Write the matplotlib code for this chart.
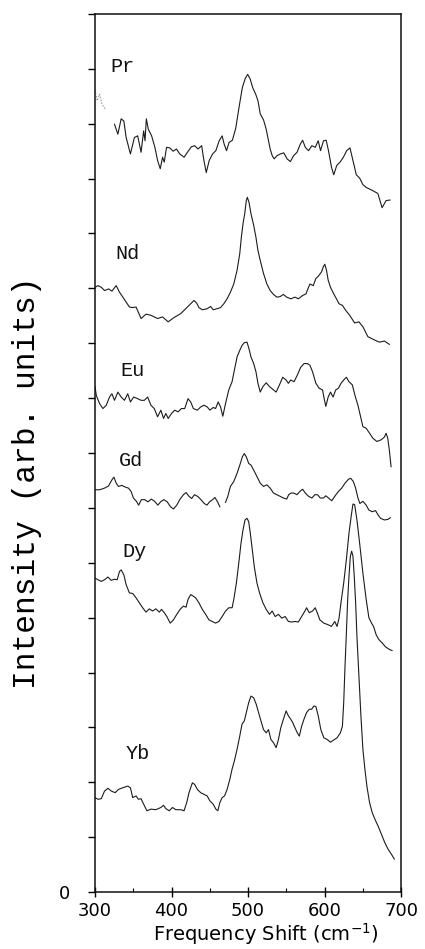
import numpy as np
import matplotlib
matplotlib.use('Agg')
import matplotlib.pyplot as plt

# Raman spectra: (frequency shift in cm-1, intensity in arb. units)
pr_start = [(300, 14.61), (303, 14.42), (306, 14.54), (309, 14.36), (313.4, 14.27)]
pr = [(325.5, 13.99), (329.9, 13.81), (334.2, 14.09), (337.7, 14.05), (340.7, 13.75),
      (346.3, 13.45), (351.5, 13.75), (355.8, 13.78), (360.2, 13.48), (363.6, 13.87),
      (365.4, 13.69), (367.1, 14.09), (369.7, 13.90), (374.0, 13.78), (378.3, 13.57),
      (381.8, 13.33), (385.3, 13.18), (388.3, 13.39), (390.5, 13.30), (393.5, 13.57),
      (397.8, 13.56), (402.2, 13.50), (406.5, 13.54), (410.8, 13.45), (416.4, 13.39),
      (420.8, 13.48), (426.0, 13.58), (430.3, 13.60), (434.6, 13.54), (439.4, 13.60),
      (442.4, 13.33), (445.4, 13.11), (449.3, 13.33), (453.7, 13.45), (458.0, 13.51),
      (462.3, 13.69), (466.2, 13.78), (468.8, 13.63), (471.9, 13.51), (475.3, 13.66),
      (479.6, 13.70), (484.0, 13.92), (488.3, 14.30), (492.6, 14.66), (496.5, 14.83),
      (499.6, 14.90), (503.0, 14.81), (506.1, 14.66), (510.0, 14.54), (513.0, 14.42),
      (516.0, 14.18), (520.3, 14.07), (523.8, 13.90), (526.8, 13.69), (529.0, 13.54),
      (531.6, 13.42), (534.2, 13.36), (538.1, 13.42), (542.4, 13.45), (546.7, 13.47),
      (551.1, 13.36), (555.4, 13.31), (559.7, 13.42), (564.1, 13.48), (568.4, 13.63),
      (571.4, 13.70), (574.9, 13.57), (579.2, 13.51), (583.5, 13.60), (587.9, 13.57),
      (591.8, 13.69), (594.8, 13.51), (598.7, 13.69), (602.2, 13.70), (605.2, 13.51),
      (609.1, 13.21), (612.1, 13.07), (616.0, 13.24), (620.3, 13.30), (624.7, 13.39),
      (629.0, 13.51), (633.3, 13.56), (637.2, 13.33), (641.6, 13.07), (645.9, 13.01),
      (650.2, 12.89), (654.5, 12.84), (658.9, 12.81), (663.2, 12.78), (669.7, 12.73),
      (675.3, 12.47), (680.5, 12.60), (685.7, 12.61)]

nd = [(300, 11.02), (303.9, 11.05), (308.2, 11.02), (312.5, 10.96), (317.7, 10.99),
      (322.1, 10.95), (327.7, 11.05), (332.0, 10.93), (336.4, 10.84), (340.7, 10.75),
      (345.0, 10.66), (349.3, 10.65), (353.7, 10.66), (360.2, 10.45), (366.6, 10.53),
      (373.1, 10.51), (381.8, 10.45), (388.3, 10.48), (395.6, 10.39), (403.4, 10.47),
      (412.1, 10.54), (420.8, 10.66), (425.1, 10.72), (429.4, 10.78), (432.9, 10.73),
      (435.9, 10.65), (440.3, 10.61), (446.7, 10.63), (451.1, 10.67), (454.5, 10.61),
      (459.7, 10.63), (464.1, 10.65), (468.4, 10.72), (472.7, 10.81), (477.0, 10.93),
      (481.4, 11.08), (485.7, 11.33), (489.2, 11.63), (491.3, 11.93), (493.5, 12.18),
      (495.7, 12.36), (497.8, 12.60), (499.1, 12.66), (501.3, 12.57), (503.9, 12.36),
      (507.4, 12.15), (510.4, 11.93), (513.0, 11.69), (516.0, 11.51), (520.3, 11.27),
      (524.7, 11.08), (529.0, 10.96), (533.3, 10.89), (537.7, 10.84), (542.0, 10.85),
      (546.3, 10.89), (550.6, 10.84), (555.8, 10.81), (561.5, 10.84), (565.8, 10.81),
      (571.4, 10.87), (575.8, 10.90), (578.8, 11.01), (581.0, 11.08), (585.3, 11.05),
      (588.7, 11.18), (591.8, 11.22), (596.1, 11.30), (598.3, 11.39), (600.4, 11.44),
      (602.6, 11.33), (604.8, 11.15), (607.8, 11.02), (612.1, 10.90), (615.6, 10.81),
      (619.0, 10.72), (623.4, 10.69), (627.7, 10.60), (632.9, 10.51), (639.4, 10.37),
      (645.0, 10.39), (650.2, 10.30), (656.7, 10.12), (665.3, 10.06), (671.8, 10.02),
      (678.3, 10.04), (684.8, 9.98)]

eu = [(300, 9.21), (301.7, 9.05), (306.0, 8.90), (310.4, 8.81), (314.7, 8.87),
      (319.0, 9.02), (322.1, 9.08), (325.5, 8.96), (329.9, 9.11), (334.2, 9.02),
      (338.5, 8.96), (342.8, 9.08), (346.3, 8.93), (350.6, 9.02), (355.8, 8.99),
      (360.2, 8.96), (364.5, 8.96), (368.8, 9.02), (373.1, 8.87), (377.5, 8.81),
      (381.8, 8.66), (386.1, 8.78), (389.6, 8.63), (392.6, 8.72), (395.7, 8.63),
      (400.0, 8.72), (404.3, 8.78), (408.6, 8.75), (413.0, 8.81), (417.3, 8.81),
      (421.6, 8.99), (425.1, 8.93), (428.6, 8.81), (433.8, 8.78), (438.1, 8.84),
      (442.4, 8.87), (446.7, 8.84), (450.2, 8.78), (454.5, 8.83), (457.6, 8.81),
      (461.0, 8.93), (464.1, 8.84), (467.1, 8.67), (470.6, 8.90), (474.9, 9.15),
      (479.2, 9.30), (482.2, 9.51), (485.7, 9.75), (489.2, 9.87), (492.2, 9.96),
      (495.2, 10.01), (498.7, 10.02), (501.3, 9.90), (503.9, 9.75), (507.4, 9.63),
      (510.4, 9.48), (513.0, 9.27), (516.0, 9.11), (519.5, 9.21), (523.8, 9.28),
      (528.1, 9.21), (532.5, 9.16), (536.8, 9.11), (541.1, 9.24), (545.4, 9.38),
      (549.8, 9.33), (552.8, 9.27), (555.8, 9.33), (560.2, 9.30), (564.5, 9.42),
      (568.8, 9.56), (573.2, 9.63), (577.5, 9.63), (580.9, 9.60), (584.4, 9.48),
      (588.7, 9.27), (593.1, 9.18), (597.4, 9.15), (599.6, 8.99), (601.7, 8.85),
      (604.8, 9.02), (607.8, 9.11), (611.2, 9.02), (614.7, 9.15), (618.2, 9.18),
      (621.6, 9.27), (625.1, 9.33), (628.6, 9.38), (632.0, 9.30), (636.4, 9.24),
      (639.8, 9.05), (643.7, 8.87), (647.2, 8.66), (650.2, 8.48), (654.5, 8.45),
      (658.9, 8.36), (663.2, 8.27), (668.4, 8.21), (674.0, 8.24), (678.3, 8.29),
      (680.5, 8.36), (682.7, 8.27), (684.8, 8.05), (687.0, 7.75)]

gd = [(300, 7.33), (306.1, 7.33), (312.5, 7.36), (317.7, 7.40), (322.1, 7.51),
      (324.7, 7.56), (327.7, 7.45), (330.7, 7.39), (335.1, 7.41), (339.4, 7.38),
      (343.7, 7.36), (347.2, 7.30), (350.2, 7.18), (354.1, 7.12), (357.1, 7.05),
      (360.6, 7.15), (364.9, 7.15), (369.3, 7.11), (373.6, 7.16), (377.9, 7.12),
      (382.2, 7.05), (385.7, 7.11), (390.0, 7.15), (394.4, 7.11), (398.7, 7.02),
      (402.6, 6.98), (406.9, 7.05), (411.2, 7.16), (415.6, 7.24), (419.0, 7.28),
      (422.9, 7.21), (426.4, 7.17), (429.9, 7.24), (434.2, 7.21), (438.5, 7.15),
      (442.8, 7.08), (446.3, 7.05), (449.8, 7.11), (453.7, 7.15), (456.7, 7.19),
      (460.2, 7.11), (463.2, 7.02), (466.5, np.nan), (470.6, 7.10), (473.6, 7.21),
      (477.0, 7.39), (481.4, 7.48), (485.7, 7.63), (490.0, 7.81), (492.6, 7.93),
      (495.2, 7.99), (497.8, 7.93), (500.9, 7.81), (503.9, 7.78), (507.4, 7.69),
      (511.7, 7.57), (516.0, 7.45), (520.3, 7.39), (524.7, 7.42), (529.0, 7.36),
      (533.3, 7.27), (537.7, 7.24), (542.0, 7.21), (546.3, 7.18), (550.6, 7.16),
      (553.2, 7.24), (556.3, 7.27), (559.7, 7.27), (564.1, 7.24), (567.9, 7.30),
      (571.4, 7.34), (574.9, 7.27), (579.2, 7.21), (583.5, 7.18), (587.4, 7.24),
      (590.9, 7.24), (594.4, 7.18), (598.7, 7.18), (601.7, 7.22), (605.2, 7.18),
      (609.5, 7.13), (613.9, 7.22), (618.2, 7.30), (622.5, 7.36), (626.8, 7.45),
      (631.2, 7.52), (634.2, 7.54), (637.7, 7.48), (640.7, 7.36), (643.7, 7.18),
      (646.3, 7.08), (650.2, 7.12), (654.5, 7.05), (658.0, 6.96), (662.3, 6.93),
      (666.7, 6.95), (670.1, 6.87), (673.2, 6.81), (678.3, 6.78), (682.7, 6.79),
      (686.1, 6.82)]

dy = [(300, 5.72), (303.9, 5.69), (308.2, 5.66), (312.5, 5.69), (316.9, 5.74),
      (321.2, 5.68), (325.5, 5.70), (329.0, 5.69), (332.0, 5.84), (334.2, 5.87),
      (337.7, 5.78), (340.7, 5.60), (345.0, 5.45), (349.3, 5.44), (353.7, 5.36),
      (358.0, 5.27), (362.3, 5.18), (366.7, 5.10), (371.0, 5.16), (375.3, 5.12),
      (379.6, 5.16), (384.0, 5.10), (387.0, 5.15), (390.5, 5.09), (393.9, 5.02),
      (398.3, 4.90), (402.6, 4.96), (406.9, 5.06), (411.2, 5.15), (415.6, 5.21),
      (419.0, 5.19), (421.6, 5.33), (425.1, 5.42), (428.6, 5.39), (431.6, 5.36),
      (435.9, 5.27), (440.3, 5.15), (444.6, 5.06), (448.9, 4.96), (453.2, 4.93),
      (457.6, 4.90), (461.9, 4.93), (466.2, 5.02), (470.6, 5.12), (474.9, 5.18),
      (479.2, 5.18), (481.4, 5.33), (484.8, 5.63), (487.9, 5.99), (490.9, 6.36),
      (493.5, 6.60), (496.1, 6.78), (498.7, 6.81), (500.9, 6.75), (503.0, 6.54),
      (505.6, 6.24), (508.2, 5.93), (511.7, 5.63), (515.1, 5.45), (519.5, 5.27),
      (523.8, 5.15), (528.1, 5.06), (531.6, 5.12), (535.5, 5.02), (539.8, 5.06),
      (544.1, 4.99), (548.5, 5.02), (552.8, 4.93), (557.1, 4.92), (561.5, 4.93),
      (565.8, 4.92), (570.1, 5.02), (574.4, 5.12), (576.6, 5.18), (580.1, 5.09),
      (584.4, 5.12), (587.9, 5.18), (590.5, 5.09), (593.9, 4.96), (599.1, 4.90),
      (604.8, 4.87), (609.1, 4.84), (613.4, 4.93), (616.4, 4.84), (619.0, 4.99),
      (622.1, 5.33), (625.1, 5.63), (628.6, 6.06), (632.0, 6.54), (635.1, 6.87),
      (637.2, 7.07), (639.4, 7.06), (642.4, 6.78), (645.9, 6.36), (650.2, 5.81),
      (654.5, 5.33), (658.0, 5.00), (661.5, 4.90), (664.1, 4.84), (667.5, 4.69),
      (671.0, 4.60), (675.3, 4.54), (679.6, 4.47), (684.8, 4.42), (688.3, 4.40)]

yb = [(300, 1.72), (303.9, 1.69), (308.2, 1.70), (312.5, 1.84), (316.9, 1.89),
      (321.2, 1.84), (326.4, 1.81), (330.7, 1.87), (336.4, 1.90), (342.8, 1.93),
      (346.3, 1.90), (349.3, 1.72), (353.7, 1.75), (356.7, 1.69), (360.2, 1.70),
      (363.6, 1.60), (367.9, 1.48), (373.2, 1.51), (379.6, 1.50), (386.1, 1.54),
      (389.6, 1.58), (392.6, 1.52), (397.0, 1.48), (401.3, 1.54), (405.6, 1.50),
      (412.1, 1.50), (416.4, 1.48), (419.9, 1.63), (422.9, 1.81), (427.3, 1.99),
      (430.3, 1.96), (433.8, 1.87), (438.1, 1.81), (442.4, 1.78), (446.7, 1.75),
      (450.2, 1.66), (454.5, 1.60), (458.0, 1.51), (460.6, 1.48), (463.2, 1.63),
      (466.2, 1.72), (469.3, 1.75), (472.7, 1.87), (476.2, 2.05), (479.2, 2.24),
      (482.2, 2.39), (485.7, 2.60), (489.2, 2.84), (492.2, 3.06), (495.2, 3.12),
      (497.8, 3.27), (500.9, 3.45), (503.9, 3.57), (507.4, 3.54), (510.8, 3.42),
      (513.8, 3.27), (516.9, 3.12), (520.3, 2.96), (523.8, 2.90), (526.8, 2.96),
      (529.9, 2.78), (533.3, 2.72), (536.8, 2.63), (539.8, 2.78), (542.8, 2.99),
      (546.3, 3.15), (549.8, 3.30), (552.8, 3.21), (555.8, 3.15), (558.4, 3.09),
      (561.5, 2.99), (564.5, 2.90), (567.1, 2.84), (570.1, 3.02), (573.2, 3.15),
      (576.6, 3.27), (580.1, 3.33), (583.1, 3.33), (586.1, 3.39), (588.7, 3.38),
      (591.8, 3.21), (595.2, 2.96), (599.1, 2.81), (603.5, 2.78), (607.8, 2.73),
      (612.1, 2.77), (616.4, 2.81), (620.8, 2.90), (623.4, 3.02), (625.1, 3.45),
      (626.8, 4.11), (628.6, 4.72), (630.3, 5.33), (632.0, 5.75), (633.8, 6.12),
      (635.5, 6.21), (637.2, 6.12), (638.9, 5.75), (640.7, 5.27), (642.4, 4.66),
      (645.0, 3.93), (647.6, 3.21), (650.2, 2.60), (652.8, 2.24), (655.4, 1.93),
      (658.9, 1.63), (662.3, 1.45), (665.8, 1.33), (670.1, 1.20), (674.5, 1.05),
      (678.8, 0.90), (683.1, 0.78), (687.4, 0.69), (691.3, 0.60)]

names = ['Pr', 'Nd', 'Eu', 'Gd', 'Dy', 'Yb']
spectra = [pr, nd, eu, gd, dy, yb]
label_pos = [(336, 15.04), (343, 11.64), (349, 9.51), (347, 7.87), (352, 6.2), (356, 2.53)]

fig = plt.figure(figsize=(4.25, 9.49), dpi=100)
ax = fig.add_axes([95 / 425, 57 / 949, 306 / 425, 878 / 949])

line_kw = dict(color='#1c1c1c', lw=0.8)
s = np.array(pr_start)
ax.plot(s[:, 0], s[:, 1], color='#888888', lw=0.7, ls=(0, (1.5, 1.5)))
for name, spec, (lx, ly) in zip(names, spectra, label_pos):
    a = np.array(spec, dtype=float)
    ax.plot(a[:, 0], a[:, 1], **line_kw)
    ax.text(lx, ly, name, family='Liberation Mono', fontsize=14.5,
            ha='center', va='center', color='#111111')

ax.set_xlim(300, 700)
ax.set_ylim(0, 16)
ax.set_xticks([300, 400, 500, 600, 700])
ax.set_xticks([350, 450, 550, 650], minor=True)
ax.set_yticks(range(17))
ax.set_yticklabels(['0'] + [''] * 16)

for sp in ax.spines.values():
    sp.set_linewidth(1.1)
    sp.set_color('#111111')

ax.tick_params(axis='x', which='major', direction='inout', length=7, width=1,
               pad=4, labelsize=13)
ax.tick_params(axis='x', which='minor', direction='in', length=3, width=0.8)
ax.tick_params(axis='y', direction='out', length=5, width=1, pad=13, labelsize=13)
for lab in ax.get_xticklabels() + ax.get_yticklabels():
    lab.set_family('DejaVu Sans')

ax.set_xlabel('Frequency Shift (cm$^{-1}$)', family='DejaVu Sans', fontsize=14)
ax.xaxis.set_label_coords(0.559, -0.048)
ax.xaxis.label.set_va('center')
ax.set_ylabel('Intensity (arb. units)', family='Liberation Mono', fontsize=22.5)
ax.yaxis.set_label_coords(-0.222, 0.466)
ax.yaxis.label.set_va('center')

fig.savefig('out.png', dpi=100)
